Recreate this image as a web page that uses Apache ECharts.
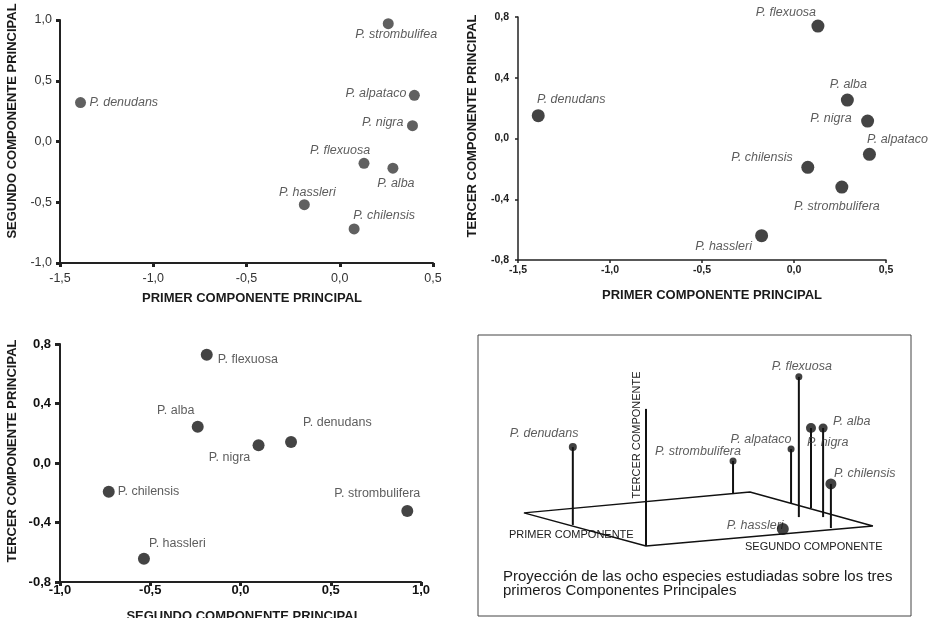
<!DOCTYPE html>
<html>
<head>
<meta charset="utf-8">
<title>Componentes principales - Prosopis</title>
<script src="https://cdn.jsdelivr.net/npm/echarts@6.0.0/dist/echarts.min.js"></script>
<style>
  html, body { margin: 0; padding: 0; background: #fff; }
  #chart { width: 938px; height: 618px; }
</style>
</head>
<body>
<div id="chart"></div>
<script>
// especies, mismo orden en todos los graficos
var especies = ['P. denudans', 'P. strombulifera', 'P. alpataco', 'P. nigra', 'P. flexuosa', 'P. alba', 'P. hassleri', 'P. chilensis'];
// en el primer grafico aparece escrito asi
var etiquetas1 = ['P. denudans', 'P. strombulifea', 'P. alpataco', 'P. nigra', 'P. flexuosa', 'P. alba', 'P. hassleri', 'P. chilensis'];

// grafico 1: primer vs segundo componente
var g1_cp1 = [-1.39, 0.26, 0.40, 0.39, 0.13, 0.285, -0.19, 0.077];
var g1_cp2 = [0.32, 0.97, 0.38, 0.13, -0.18, -0.22, -0.52, -0.72];

// grafico 2: primer vs tercer componente
var g2_cp1 = [-1.39, 0.26, 0.41, 0.40, 0.13, 0.29, -0.176, 0.075];
var g2_cp3 = [0.15, -0.32, -0.104, 0.115, 0.74, 0.253, -0.64, -0.19];

// grafico 3: segundo vs tercer componente (sin P. alpataco)
var g3_cp2 = [0.28, 0.924, null, 0.10, -0.187, -0.237, -0.535, -0.73];
var g3_cp3 = [0.141, -0.323, null, 0.119, 0.728, 0.244, -0.643, -0.193];

// grafico 4: esquema de proyeccion (unidades del recuadro 0-100)
var g4_x    = [21.9, 58.9, 72.3, 76.9, 74.1, 79.7, 70.4, 81.5];
var g4_base = [32.4, 43.4, 40.2, 38.4, 35.2, 35.2, 31.0, 31.3];
var g4_tope = [60.1, 55.2, 59.4, 66.9, 85.1, 66.9, 31.0, 47.0];
var plano_x = [10.6, 62.8, 91.2, 38.8, 10.6];
var plano_y = [36.7, 44.1, 32.0, 24.9, 36.7];
var eje3_x  = [38.8, 38.8];
var eje3_y  = [24.9, 73.7];

var FONT = 'Liberation Sans, Arial, Helvetica, sans-serif';

// posicion de etiquetas [dx, dy, align] respecto al punto
var pos1 = [[9, 0, 'left'], [8, 11, 'center'], [-8, -2, 'right'], [-9, -3, 'right'], [-24, -13, 'center'], [3, 15, 'center'], [3, -12, 'center'], [30, -13, 'center']];
var pos2 = [[33, -16, 'center'], [-5, 19, 'center'], [28, -15, 'center'], [-16, -3, 'right'], [-32, -14, 'center'], [1, -16, 'center'], [-38, 11, 'center'], [-15, -10, 'right']];
var pos3 = [[12, -19, 'left'], [-30, -17, 'center'], null, [-29, 12, 'center'], [11, 5, 'left'], [-22, -16, 'center'], [5, -15, 'left'], [9, 0, 'left']];
var pos4 = [[-63, -14, 'left'], [-78, -9, 'left'], [-30, -10, 'center'], [-4, 15, 'left'], [3, -10, 'center'], [10, -6, 'left'], [-56, -3, 'left'], [3, -10, 'left']];
var tam4 = [8, 7, 7, 10, 7, 9, 12, 11];

function fmt(v) {
    return v.toFixed(1).replace('.', ',');
}

function puntos(nombres, xs, ys, pos) {
    var out = [];
    for (var i = 0; i < nombres.length; i++) {
        if (xs[i] == null) continue;
        out.push({
            name: nombres[i],
            value: [xs[i], ys[i]],
            label: { offset: [pos[i][0], pos[i][1]], align: pos[i][2] }
        });
    }
    return out;
}

function eje(idx, min, max, step, st) {
    return {
        gridIndex: idx,
        type: 'value',
        min: min, max: max, interval: step,
        splitLine: { show: false },
        axisLine: { show: true, onZero: false, lineStyle: { color: '#222', width: st.line } },
        axisTick: { show: true, length: st.tick, lineStyle: { color: '#222', width: st.tickW } },
        axisLabel: {
            show: true, margin: st.margin, color: st.color, fontSize: st.size,
            fontWeight: st.weight, fontFamily: FONT, formatter: fmt
        }
    };
}

function texto(t, x, y, size, weight, rot, align, style) {
    return {
        type: 'text', x: x, y: y, rotation: rot || 0, silent: true,
        style: {
            text: t, fill: '#1a1a1a', fontSize: size, fontWeight: weight || 'normal',
            fontStyle: style || 'normal', fontFamily: FONT,
            align: align || 'center', verticalAlign: 'middle',
            textAlign: align || 'center', textVerticalAlign: 'middle'
        }
    };
}

var chart = echarts.init(document.getElementById('chart'));

var s1 = { line: 2, tick: 4, tickW: 3, margin: 9, color: '#333', size: 12.5, weight: 'normal' };
var s1y = { line: 2, tick: 4, tickW: 3, margin: 8, color: '#333', size: 12.5, weight: 'normal' };
var s2 = { line: 1.5, tick: 3, tickW: 1.5, margin: 5, color: '#222', size: 10.5, weight: 'bold' };
var s2y = { line: 1.5, tick: 3, tickW: 1.5, margin: 9, color: '#222', size: 10.5, weight: 'bold' };
var s3 = { line: 2, tick: 4, tickW: 3, margin: 2, color: '#111', size: 13, weight: 'bold' };
var s3y = { line: 2, tick: 5, tickW: 3, margin: 9, color: '#111', size: 13, weight: 'bold' };

var datos4 = [], etiq4 = [], tallos = [];
for (var i = 0; i < especies.length; i++) {
    datos4.push({ name: especies[i], value: [g4_x[i], g4_tope[i]], symbolSize: tam4[i] });
    etiq4.push({
        name: especies[i], value: [g4_x[i], g4_tope[i]],
        label: { offset: [pos4[i][0], pos4[i][1]], align: pos4[i][2] }
    });
    tallos.push([g4_x[i], g4_base[i], g4_tope[i]]);
}
var plano = plano_x.map(function (x, k) { return [x, plano_y[k]]; });
var eje3 = eje3_x.map(function (x, k) { return [x, eje3_y[k]]; });

var option = {
    animation: false,
    backgroundColor: '#fff',
    textStyle: { fontFamily: FONT },
    grid: [
        { left: 60, top: 20, width: 373, height: 243 },
        { left: 518, top: 17, width: 368, height: 243 },
        { left: 60, top: 344, width: 361, height: 238 },
        { left: 478, top: 335, width: 433, height: 281, show: true, borderColor: '#444', borderWidth: 1, backgroundColor: '#fff' }
    ],
    xAxis: [
        eje(0, -1.5, 0.5, 0.5, s1),
        eje(1, -1.5, 0.5, 0.5, s2),
        eje(2, -1, 1, 0.5, s3),
        { gridIndex: 3, type: 'value', min: 0, max: 100, show: false }
    ],
    yAxis: [
        eje(0, -1, 1, 0.5, s1y),
        eje(1, -0.8, 0.8, 0.4, s2y),
        eje(2, -0.8, 0.8, 0.4, s3y),
        { gridIndex: 3, type: 'value', min: 0, max: 100, show: false }
    ],
    graphic: [
        texto('SEGUNDO COMPONENTE PRINCIPAL', 12, 121, 13, 'bold', Math.PI / 2),
        texto('PRIMER COMPONENTE PRINCIPAL', 252, 298, 13, 'bold'),
        texto('TERCER COMPONENTE PRINCIPAL', 472, 126, 13, 'bold', Math.PI / 2),
        texto('PRIMER COMPONENTE PRINCIPAL', 712, 295, 13, 'bold'),
        texto('TERCER COMPONENTE PRINCIPAL', 12, 451, 13, 'bold', Math.PI / 2),
        texto('SEGUNDO COMPONENTE PRINCIPAL', 244, 616, 13, 'bold'),
        texto('TERCER COMPONENTE', 637, 435, 11, 'normal', Math.PI / 2),
        texto('PRIMER COMPONENTE', 509, 535, 11, 'normal', 0, 'left'),
        texto('SEGUNDO COMPONENTE', 745, 547, 11, 'normal', 0, 'left'),
        texto('Proyección de las ocho especies estudiadas sobre los tres', 503, 577, 15, 'normal', 0, 'left'),
        texto('primeros Componentes Principales', 503, 591, 15, 'normal', 0, 'left')
    ],
    series: [
        {
            type: 'scatter', xAxisIndex: 0, yAxisIndex: 0,
            symbolSize: 11,
            itemStyle: { color: '#383838' },
            label: { show: true, position: 'inside', formatter: '{b}', color: '#333', fontSize: 12.5, fontStyle: 'italic', fontFamily: FONT },
            data: puntos(etiquetas1, g1_cp1, g1_cp2, pos1)
        },
        {
            type: 'scatter', xAxisIndex: 1, yAxisIndex: 1,
            symbolSize: 13,
            itemStyle: { color: '#151515' },
            label: { show: true, position: 'inside', formatter: '{b}', color: '#333', fontSize: 12.5, fontStyle: 'italic', fontFamily: FONT },
            data: puntos(especies, g2_cp1, g2_cp3, pos2)
        },
        {
            type: 'scatter', xAxisIndex: 2, yAxisIndex: 2,
            symbolSize: 12,
            itemStyle: { color: '#151515' },
            label: { show: true, position: 'inside', formatter: '{b}', color: '#333', fontSize: 12.5, fontFamily: FONT },
            data: puntos(especies, g3_cp2, g3_cp3, pos3)
        },
        {
            // plano de los dos primeros componentes
            type: 'line', xAxisIndex: 3, yAxisIndex: 3,
            symbol: 'none', silent: true, z: 2,
            lineStyle: { color: '#111', width: 1.5 },
            data: plano
        },
        {
            type: 'line', xAxisIndex: 3, yAxisIndex: 3,
            symbol: 'none', silent: true, z: 2,
            lineStyle: { color: '#111', width: 2 },
            data: eje3
        },
        {
            type: 'custom', xAxisIndex: 3, yAxisIndex: 3, z: 2,
            renderItem: function (params, api) {
                var a = api.coord([api.value(0), api.value(1)]);
                var b = api.coord([api.value(0), api.value(2)]);
                return {
                    type: 'line',
                    shape: { x1: a[0], y1: a[1], x2: b[0], y2: b[1] },
                    style: { stroke: '#111', lineWidth: 2 }
                };
            },
            data: tallos
        },
        {
            type: 'scatter', xAxisIndex: 3, yAxisIndex: 3, z: 2,
            symbolSize: 1,
            itemStyle: { color: 'rgba(0,0,0,0)' },
            label: { show: true, position: 'inside', formatter: '{b}', color: '#333', fontSize: 12.5, fontStyle: 'italic', fontFamily: FONT },
            data: etiq4
        },
        {
            type: 'scatter', xAxisIndex: 3, yAxisIndex: 3, z: 4,
            itemStyle: { color: '#111' },
            data: datos4
        }
    ]
};

chart.setOption(option);
</script>
</body>
</html>
